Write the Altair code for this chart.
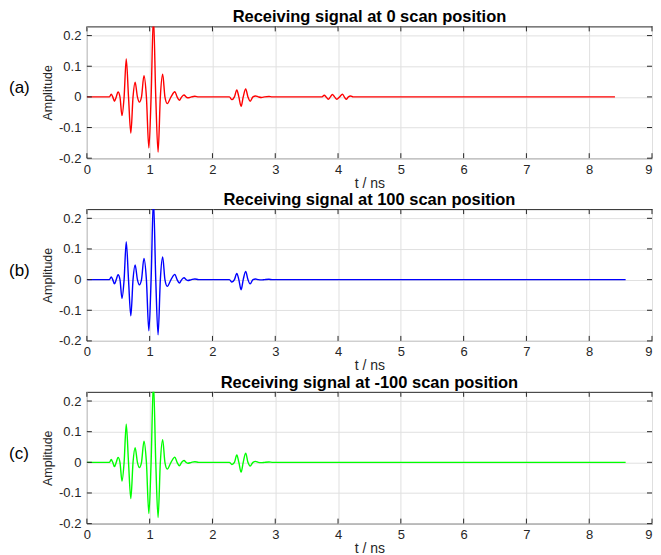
import altair as alt
import pandas as pd

# ---- data ----
x_ticks = [0, 1, 2, 3, 4, 5, 6, 7, 8, 9]
y_ticks = [-0.2, -0.1, 0.0, 0.1, 0.2]

# main pulse (same in all three panels)
t_pulse = [0.00, 0.30, 0.36, 0.387, 0.412, 0.439, 0.468, 0.496, 0.527, 0.559,
           0.593, 0.627, 0.663, 0.700, 0.735, 0.768, 0.805, 0.836, 0.870, 0.909,
           0.948, 0.987, 1.023, 1.060, 1.097, 1.134, 1.170, 1.207, 1.243, 1.280,
           1.340, 1.400, 1.437, 1.473, 1.510, 1.547, 1.580, 1.610, 1.665, 1.720,
           1.780]
amp_pulse = [0, 0, 0, 0.009, 0, -0.014, 0, 0.016, 0, -0.061,
             0, 0.124, 0, -0.118, 0, 0.048, 0, -0.017, 0, 0.069,
             0, -0.167, 0, 0.262, 0, -0.180, 0, 0.074, 0, -0.022,
             0, 0.017, 0, -0.011, 0, 0.006, 0, -0.003, 0, 0.002,
             0]

# second echo
t_echo = [2.20, 2.27, 2.31, 2.35, 2.388, 2.42, 2.456, 2.49, 2.529, 2.565,
          2.60, 2.645, 2.686, 2.73, 2.78, 2.83, 2.90, 2.95, 3.00]
amp_echo_a = [0, 0, -0.009, 0, 0.023, 0, -0.031, 0, 0.026, 0,
              -0.014, 0, 0.003, 0, -0.002, 0, 0.0015, 0, 0]
amp_echo_b = [0, 0, -0.008, 0, 0.020, 0, -0.033, 0, 0.027, 0,
              -0.014, 0, 0.002, 0, -0.001, 0, 0.001, 0, 0]
amp_echo_c = [0, 0, -0.007, 0, 0.024, 0, -0.032, 0, 0.030, 0,
              -0.012, 0, 0.003, 0, -0.001, 0, 0.001, 0, 0]

# tails
t_tail_a = [3.70, 3.745, 3.78, 3.81, 3.845, 3.878, 3.91, 3.945, 3.98, 4.025,
            4.07, 4.10, 4.13, 4.165, 4.20, 4.24, 4.30, 8.41]
amp_tail_a = [0, 0, 0.0055, 0, -0.0077, 0, 0.0077, 0, -0.0077, 0,
              0.0087, 0, -0.0077, 0, 0.003, 0, 0, 0]
t_tail_bc = [3.50, 8.58]
amp_tail_bc = [0, 0]

titles = ["Receiving signal at 0 scan position",
          "Receiving signal at 100 scan position",
          "Receiving signal at -100 scan position"]
tags = ["(a)", "(b)", "(c)"]
colors = ["#ff0000", "#0000ff", "#00ff00"]

# ---- layout ----
W, H = 566, 132
FONT = "Liberation Sans"
DARK = "#262626"

xscale = alt.Scale(domain=[0, 9], nice=False, zero=False)
yscale = alt.Scale(domain=[-0.2, 0.23], nice=False, zero=False)
x_axis = alt.Axis(
    values=x_ticks, title="t / ns", grid=True, ticks=False, domain=False,
    labelPadding=5, titlePadding=0, titleFontSize=14,
    labelAlign={"condition": {"test": "datum.value == 9", "value": "right"},
                "value": "center"})
y_axis = alt.Axis(
    values=y_ticks, title="Amplitude", grid=True, ticks=False, domain=False,
    labelPadding=6, titlePadding=4, titleFontSize=12.5,
    labelExpr="datum.value == 0 ? '0' : (datum.value < 0 ? '-' + format(-datum.value, '.1f') : format(datum.value, '.1f'))")


def X():
    return alt.X("t:Q", scale=xscale, axis=x_axis, title="t / ns")


def Y():
    return alt.Y("amp:Q", scale=yscale, axis=y_axis, title="Amplitude")


def make_panel(t, a, color, title, tag):
    df = pd.DataFrame({"t": t, "amp": a})

    line = alt.Chart(df).mark_line(
        color=color, strokeWidth=1.4, interpolate="monotone", clip=True
    ).encode(x=X(), y=Y())

    xt = pd.DataFrame({"t": x_ticks})
    yt = pd.DataFrame({"amp": y_ticks})
    xtick_bot = alt.Chart(xt).mark_rule(color=DARK, strokeWidth=1).encode(
        x=X(), y=alt.value(H), y2=alt.value(H - 5))
    xtick_top = alt.Chart(xt).mark_rule(color=DARK, strokeWidth=1).encode(
        x=X(), y=alt.value(0), y2=alt.value(5))
    ytick_l = alt.Chart(yt).mark_rule(color=DARK, strokeWidth=1).encode(
        y=Y(), x=alt.value(0), x2=alt.value(5))
    ytick_r = alt.Chart(yt).mark_rule(color=DARK, strokeWidth=1).encode(
        y=Y(), x=alt.value(W), x2=alt.value(W - 5))

    tag_text = alt.Chart(pd.DataFrame({"tag": [tag]})).mark_text(
        align="left", baseline="middle", fontSize=17, font=FONT, color="black"
    ).encode(text="tag:N", x=alt.value(-78), y=alt.value(H / 2 - 4))

    return alt.layer(line, xtick_bot, xtick_top, ytick_l, ytick_r, tag_text).properties(
        width=W, height=H,
        title=alt.TitleParams(title, fontSize=16.5, fontWeight="bold", font=FONT,
                              color="black", offset=0, anchor="middle"))


p1 = make_panel(t_pulse + t_echo + t_tail_a, amp_pulse + amp_echo_a + amp_tail_a,
                colors[0], titles[0], tags[0])
p2 = make_panel(t_pulse + t_echo + t_tail_bc, amp_pulse + amp_echo_b + amp_tail_bc,
                colors[1], titles[1], tags[1])
p3 = make_panel(t_pulse + t_echo + t_tail_bc, amp_pulse + amp_echo_c + amp_tail_bc,
                colors[2], titles[2], tags[2])

chart = alt.vconcat(p1, p2, p3, spacing=0).properties(
    padding=0, background="white"
).configure_view(
    stroke=DARK, strokeWidth=1
).configure_axis(
    labelFont=FONT, labelFontSize=13, labelColor=DARK,
    titleFont=FONT, titleFontWeight="normal", titleColor=DARK,
    gridColor="#e0e0e0", gridWidth=1
)

chart.save("out.html", embed_options={"renderer": "svg", "actions": False})
